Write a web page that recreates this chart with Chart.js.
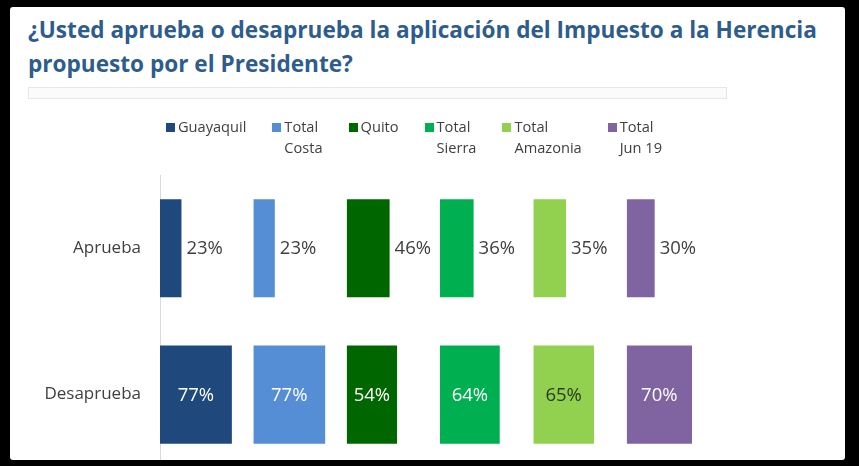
<!DOCTYPE html>
<html>
<head>
<meta charset="utf-8">
<script src="https://cdn.jsdelivr.net/npm/chart.js@4/dist/chart.umd.min.js"></script>
<style>
  html, body { margin: 0; padding: 0; }
  body { width: 859px; height: 466px; background: #000; position: relative; overflow: hidden; }
  #frame {
    position: absolute; left: 10px; top: 7px; width: 835px; height: 453px;
    background: #fff; overflow: hidden; border-radius: 3px;
    font-family: "Open Sans", sans-serif;
  }
  #title {
    position: absolute; left: 18px; top: 6px; margin: 0; white-space: nowrap;
    font-size: 22.6px; line-height: 34px; font-weight: 700; color: #2E5C8C;
  }
  #titleBar {
    position: absolute; left: 18px; top: 80px; width: 697px; height: 10px;
    border: 1px solid #e6e6e6; background: #fbfbfb;
  }
  #legend {
    position: absolute; left: 156px; top: 109px; display: flex; gap: 26px;
    font-size: 14.6px; line-height: 21px; color: #404040;
  }
  .item { display: flex; align-items: flex-start; }
  .swatch { width: 9px; height: 9px; margin: 7px 3px 0 0; flex: none; }
  #chartBox { position: absolute; left: 0; top: 0; width: 835px; height: 482px; }
</style>
</head>
<body>
<div id="frame">
  <h1 id="title">¿Usted aprueba o desaprueba la aplicación del Impuesto a la Herencia<br>propuesto por el Presidente?</h1>
  <div id="titleBar"></div>
  <div id="chartBox"><canvas id="chart" width="835" height="482"></canvas></div>
  <div id="legend"></div>
</div>
<script>
const categories = ['Aprueba', 'Desaprueba'];
const seriesNames = [['Guayaquil'], ['Total', 'Costa'], ['Quito'], ['Total', 'Sierra'], ['Total', 'Amazonia'], ['Total', 'Jun 19']];
const guayaquil = [23, 77];
const totalCosta = [23, 77];
const quito = [46, 54];
const totalSierra = [36, 64];
const totalAmazonia = [35, 65];
const totalJun19 = [30, 70];

const seriesValues = [guayaquil, totalCosta, quito, totalSierra, totalAmazonia, totalJun19];
const colors = ['#1F497D', '#558ED5', '#006600', '#00B050', '#92D050', '#8064A2'];
const insideTextColors = ['#ffffff', '#ffffff', '#ffffff', '#ffffff', '#2b3a1c', '#ffffff'];

// legend, one entry per series, names may wrap on two lines
const legendEl = document.getElementById('legend');
seriesNames.forEach((lines, i) => {
  const item = document.createElement('div');
  item.className = 'item';
  const sw = document.createElement('span');
  sw.className = 'swatch';
  sw.style.background = colors[i];
  const txt = document.createElement('span');
  txt.innerHTML = lines.join('<br>');
  item.appendChild(sw);
  item.appendChild(txt);
  legendEl.appendChild(item);
});

// each series gets its own x axis; the axes share one stack so they sit side by side
const scales = {
  y: {
    grid: { display: false },
    border: { display: true, color: '#d9d9d9', width: 1 },
    ticks: { color: '#404040', padding: 11, font: { family: 'Open Sans', size: 17 } },
    afterFit: (scale) => { scale.width = 150; }
  }
};
seriesValues.forEach((_, i) => {
  scales['x' + i] = {
    type: 'linear', axis: 'x', position: 'bottom', stack: 'cols', stackWeight: 1,
    min: 0, max: 100, display: false
  };
});

const valueLabels = {
  id: 'valueLabels',
  afterDatasetsDraw(chart) {
    const ctx = chart.ctx;
    ctx.save();
    ctx.font = '18.5px "Open Sans"';
    ctx.textBaseline = 'middle';
    chart.data.datasets.forEach((ds, i) => {
      const meta = chart.getDatasetMeta(i);
      meta.data.forEach((bar, j) => {
        const text = ds.data[j] + '%';
        if (j === 0) {
          ctx.fillStyle = '#404040';
          ctx.textAlign = 'left';
          ctx.fillText(text, bar.x + 5, bar.y + 1);
        } else {
          ctx.fillStyle = insideTextColors[i];
          ctx.textAlign = 'center';
          ctx.fillText(text, (bar.x + bar.base) / 2, bar.y + 1);
        }
      });
    });
    ctx.restore();
  }
};

new Chart(document.getElementById('chart'), {
  type: 'bar',
  data: {
    labels: categories,
    datasets: seriesValues.map((vals, i) => ({
      label: seriesNames[i].join(' '),
      data: vals,
      xAxisID: 'x' + i,
      backgroundColor: colors[i],
      borderWidth: 0,
      grouped: false,
      categoryPercentage: 1,
      barPercentage: 0.67
    }))
  },
  options: {
    indexAxis: 'y',
    responsive: false,
    animation: false,
    layout: { padding: { top: 168, bottom: 10, right: 125, left: 0 } },
    plugins: { legend: { display: false }, tooltip: { enabled: false } },
    scales: scales
  },
  plugins: [valueLabels]
});
</script>
</body>
</html>
